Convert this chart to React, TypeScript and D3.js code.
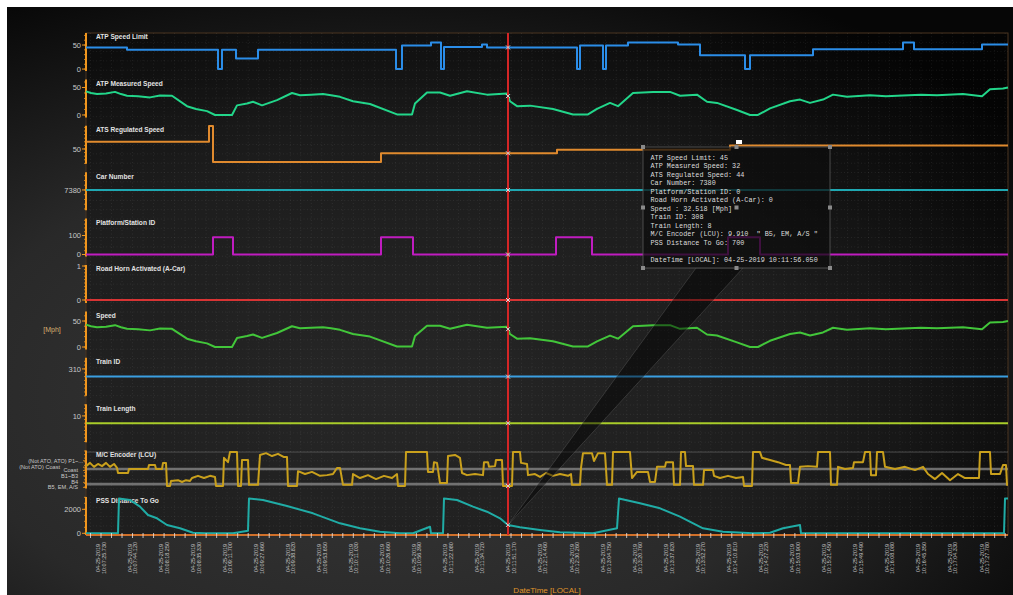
import React from "react";
import * as d3 from "d3";

type Pt = [number, number];

const DATE_LABEL = "04-25-2019";
const TIME_LABELS = [
  "10:07:25.730", "10:07:44.120", "10:08:18.250", "10:08:35.330", "10:09:11.700",
  "10:09:27.660", "10:09:38.820", "10:09:53.650", "10:10:11.030", "10:10:26.660",
  "10:10:56.390", "10:11:22.080", "10:11:34.720", "10:11:51.170", "10:12:14.460",
  "10:12:30.260", "10:13:04.750", "10:13:20.760", "10:13:37.820", "10:13:52.270",
  "10:14:10.810", "10:14:27.220", "10:15:03.900", "10:15:21.450", "10:15:49.490",
  "10:16:08.080", "10:16:45.350", "10:17:04.330", "10:17:27.780",
];

const PANEL_TITLES = [
  "ATP Speed Limit", "ATP Measured Speed", "ATS Regulated Speed", "Car Number",
  "Platform/Station ID", "Road Horn Activated (A-Car)", "Speed", "Train ID",
  "Train Length", "M/C Encoder (LCU)", "PSS Distance To Go",
];
const PANEL_TICKS: number[][] = [[0, 50], [0, 50], [50], [7380], [0, 100], [0, 1], [0, 50], [310], [10], [], [0, 2000]];
const PANEL_DOMAINS: [number, number][] = [
  [-4, 75], [-4.4, 64.7], [29.4, 82.2], [7358.7, 7398.7], [-11, 189], [-0.088, 1.03],
  [-4.6, 68.5], [303, 312.9], [2.8, 13.2], [10.44, -0.11], [-142, 3025],
];
const SERIES_COLORS = ["#2b8de8", "#22d68a", "#e08a2e", "#1fa8b2", "#c01cc0", "#d83434", "#42c63a", "#3a9ee0", "#a9cc2a", "#c9a01c", "#20aca6"];
const SERIES_STEP = [true, false, true, true, true, true, false, true, true, false, false];

// x = sample index
const X_DOMAIN: Pt = [0, 922];
const TICK_FIRST = 15;
const TICK_STEP = 31.54;

const ATP_SPEED_LIMIT: Pt[] = [
  [0, 45], [41, 40], [132, 0], [136, 40], [150, 22], [172, 40], [310, 0], [316, 49], [345, 55], [355, 0],
  [358, 46], [396, 51], [401, 45], [491, 0], [494, 49], [517, 0], [520, 49], [542, 55], [592, 51], [614, 29],
  [659, 0], [664, 29], [727, 41], [817, 55], [828, 41], [896, 51], [922, 51],
];
const ATP_MEASURED_SPEED: Pt[] = [
  [0, 43], [5, 40], [11, 38], [20, 39], [29, 42], [35, 38], [41, 35], [52, 34], [64, 32], [74, 35.5], [86, 35],
  [101, 16], [110, 11], [121, 7], [129, 0], [146, 0], [151, 17.5], [161, 21], [167, 24], [176, 17.5], [191, 27],
  [206, 40], [214, 36], [225, 37], [237, 38], [245, 36], [254, 33], [267, 25], [284, 20], [311, 1], [326, 1],
  [329, 21], [341, 41], [354, 41], [364, 35], [381, 43], [401, 37], [421, 39], [424, 25], [431, 16], [444, 17],
  [467, 11], [487, 1], [502, 1], [511, 11], [524, 22], [532, 16], [547, 40], [567, 42], [584, 42], [594, 35],
  [611, 37], [621, 24], [631, 22], [651, 9], [664, 0], [672, 0], [684, 12], [704, 25], [714, 28], [724, 22],
  [737, 28], [747, 37], [761, 33], [784, 36], [800, 34], [817, 35.5], [835, 37], [851, 36], [877, 38],
  [896, 34], [904, 47], [917, 48], [922, 50],
];
const ATS_REGULATED_SPEED: Pt[] = [[0, 60], [123, 82], [127, 32], [295, 44], [471, 49], [644, 55], [922, 55]];
const CAR_NUMBER: Pt[] = [[0, 7380], [922, 7380]];
const PLATFORM_STATION_ID: Pt[] = [[0, 0], [127, 91], [147, 0], [295, 91], [327, 0], [470, 91], [506, 0], [642, 91], [674, 0], [922, 0]];
const ROAD_HORN: Pt[] = [[0, 0], [922, 0]];
const SPEED_MPH: Pt[] = ATP_MEASURED_SPEED;
const TRAIN_ID: Pt[] = [[0, 308], [922, 308]];
const TRAIN_LENGTH: Pt[] = [[0, 8], [922, 8]];
const MC_ENCODER: Pt[] = [
  [0, 4.2], [4, 3.3], [8, 4.4], [12, 3.6], [16, 4.2], [20, 3.3], [24, 4.4], [28, 3.6], [31, 4.7], [32, 6.1], [42, 6.1],
  [43, 5.0], [62, 5.0], [63, 3.9], [69, 3.9], [70, 5.0], [76, 5.0], [77, 3.3], [80, 3.3], [81, 9.7], [84, 9.7],
  [85, 8.3], [92, 8.1], [96, 8.6], [100, 8.1], [104, 8.3], [106, 7.5], [112, 6.9], [118, 7.5], [124, 6.9], [129, 7.2],
  [130, 9.7], [137, 9.7], [138, 1.9], [142, 3.1], [144, 0.3], [151, 0.3], [152, 9.7], [155, 9.7], [156, 2.5], [162, 2.5],
  [163, 9.4], [172, 9.4], [174, 1.1], [180, 0.6], [186, 1.4], [192, 0.8], [198, 1.7], [201, 1.7], [202, 9.7], [211, 9.7],
  [212, 5.6], [219, 6.4], [226, 5.8], [234, 6.9], [241, 6.7], [247, 6.4], [251, 4.7], [254, 4.7], [257, 9.4], [266, 9.4],
  [267, 6.4], [274, 7.5], [282, 6.7], [290, 7.8], [298, 6.9], [306, 7.5], [311, 6.4], [312, 9.7], [319, 9.7], [320, 0.3],
  [341, 0.3], [342, 5.8], [347, 5.8], [348, 3.1], [351, 3.3], [354, 8.9], [361, 8.9], [362, 1.4], [369, 1.1], [374, 1.9],
  [376, 6.1], [381, 6.7], [389, 6.4], [397, 6.7], [398, 3.1], [402, 3.1], [403, 4.4], [409, 4.2], [410, 2.5], [416, 2.5],
  [417, 9.7], [426, 9.7], [427, 0.3], [434, 0.3], [435, 3.3], [441, 3.6], [442, 6.7], [449, 6.4], [454, 7.2], [460, 6.1],
  [467, 6.9], [474, 6.4], [482, 6.9], [485, 6.4], [486, 9.4], [494, 9.4], [495, 4.7], [497, 0.6], [506, 0.6], [508, 2.8],
  [512, 0.6], [519, 0.6], [521, 9.4], [526, 9.4], [527, 0.3], [544, 0.3], [546, 7.5], [551, 5.8], [562, 5.8], [564, 8.6],
  [569, 8.6], [571, 4.4], [579, 4.4], [580, 3.1], [587, 3.1], [588, 9.4], [594, 9.4], [595, 0.3], [599, 0.3], [600, 4.2],
  [607, 4.2], [608, 9.4], [617, 9.4], [618, 5.3], [627, 5.3], [628, 6.9], [634, 7.5], [642, 6.9], [650, 7.5], [657, 7.2],
  [658, 9.7], [666, 9.7], [667, 0.3], [674, 0.3], [676, 1.9], [684, 2.5], [692, 3.1], [700, 3.9], [704, 3.9], [705, 8.9],
  [712, 8.9], [714, 4.4], [722, 4.2], [731, 4.4], [732, 0.3], [744, 0.3], [745, 9.4], [751, 9.4], [752, 4.4], [759, 5.0],
  [767, 4.7], [768, 3.1], [777, 3.1], [779, 0.3], [784, 0.3], [785, 6.7], [790, 6.7], [791, 0.3], [797, 0.3], [799, 4.4],
  [809, 5.0], [819, 4.4], [829, 5.3], [837, 4.4], [842, 6.4], [849, 7.8], [856, 6.1], [864, 8.1], [872, 6.4], [879, 7.5],
  [893, 7.5], [894, 0.3], [904, 0.3], [905, 6.4], [914, 6.4], [917, 3.9], [920, 3.9], [921, 9.4], [922, 9.4],
];
const PSS_DISTANCE: Pt[] = [
  [0, 0], [32, 0], [33, 2900], [44, 2775], [54, 2220], [62, 1525], [71, 1250], [81, 690], [94, 415], [107, 50],
  [119, 0], [147, 0], [162, 215], [163, 2900], [177, 2775], [201, 2275], [227, 1665], [254, 830], [274, 415],
  [294, 130], [314, 0], [327, 0], [344, 550], [345, 0], [357, 0], [358, 2900], [371, 2775], [387, 2220], [401, 1800],
  [414, 1250], [422, 700], [434, 500], [454, 275], [474, 80], [507, 0], [531, 415], [533, 2900], [554, 2500],
  [574, 2080], [594, 1385], [617, 415], [637, 130], [667, 0], [684, 50], [697, 415], [714, 690], [715, 0], [918, 0],
  [919, 2900], [922, 2900],
];

const SERIES: Pt[][] = [
  ATP_SPEED_LIMIT, ATP_MEASURED_SPEED, ATS_REGULATED_SPEED, CAR_NUMBER, PLATFORM_STATION_ID, ROAD_HORN,
  SPEED_MPH, TRAIN_ID, TRAIN_LENGTH, MC_ENCODER, PSS_DISTANCE,
];

const ENCODER_TICK_VALUES = [2.7, 4.5, 5.4, 6.9, 8.7, 10.1];
const ENCODER_TICK_TEXT = ['(Not ATO, ATO) P1~...', "(Not ATO) Coast", "Coast", "B1~B3", "B4", "B5, EM, A/S"];
const ENCODER_TICK_END = [83, 60, 78, 78, 78, 78];
const ENCODER_BANDS = [5.0, 9.2];

const CURSOR_SAMPLE = 422;
const TOOLTIP_LINES = [
  "ATP Speed Limit: 45",
  "ATP Measured Speed: 32",
  "ATS Regulated Speed: 44",
  "Car Number: 7380",
  "Platform/Station ID: 0",
  "Road Horn Activated (A-Car): 0",
  "Speed : 32.518 [Mph]",
  "Train ID: 308",
  "Train Length: 8",
  'M/C Encoder (LCU): 9.910  " B5, EM, A/S "',
  "PSS Distance To Go: 700",
  "",
  "DateTime [LOCAL]: 04-25-2019 10:11:56.050",
];

const PLOT_L = 86, PLOT_R = 1008, PLOT_T = 33, PLOT_B = 535;
const PANEL_PITCH = 46.4, PANEL_H = 38;
const SANS = "'Liberation Sans', Arial, sans-serif";

function valueAt(series: Pt[], s: number, step: boolean): number {
  for (let i = 0; i < series.length - 1; i++) {
    const a = series[i], b = series[i + 1];
    if (s >= a[0] && s <= b[0]) {
      if (step) return s === b[0] ? b[1] : a[1];
      const t = (s - a[0]) / (b[0] - a[0] || 1);
      return a[1] + t * (b[1] - a[1]);
    }
  }
  return series[series.length - 1][1];
}

export default function App() {
  const x = d3.scaleLinear().domain(X_DOMAIN).range([PLOT_L, PLOT_R]);
  const panels = PANEL_TITLES.map((title, i) => {
    const top = PLOT_T + i * PANEL_PITCH;
    const bottom = top + PANEL_H;
    const y = d3.scaleLinear().domain(PANEL_DOMAINS[i]).range([bottom, top]);
    const line = d3
      .line<Pt>()
      .x((d) => x(d[0]))
      .y((d) => y(d[1]))
      .curve(SERIES_STEP[i] ? d3.curveStepAfter : d3.curveLinear);
    return { title, top, bottom, y, path: line(SERIES[i]) || "", i };
  });

  const tickSamples = TIME_LABELS.map((_, i) => TICK_FIRST + i * TICK_STEP);
  const minorSamples: number[] = [];
  for (let s = TICK_FIRST - TICK_STEP; s <= X_DOMAIN[1]; s += TICK_STEP / 3) {
    if (s >= X_DOMAIN[0]) minorSamples.push(s);
  }
  const hGrid: number[] = [];
  for (let yy = PLOT_T + 9.3; yy < PLOT_B; yy += 9.3) hGrid.push(yy);

  const cx = x(CURSOR_SAMPLE);
  const box = { l: 643, t: 147, r: 830, b: 268 };
  const handles: Pt[] = [
    [box.l, box.t], [(box.l + box.r) / 2, box.t], [box.r, box.t],
    [box.l, (box.t + box.b) / 2], [(box.l + box.r) / 2, (box.t + box.b) / 2], [box.r, (box.t + box.b) / 2],
    [box.l, box.b], [(box.l + box.r) / 2, box.b], [box.r, box.b],
  ];

  return (
    <svg width={1013} height={595} style={{ position: "fixed", left: 0, top: 0 }} fontFamily={SANS}>
      <defs>
        <radialGradient id="bg" cx="38%" cy="66%" r="78%">
          <stop offset="0" stopColor="#383838" />
          <stop offset="0.55" stopColor="#292929" />
          <stop offset="1" stopColor="#060606" />
        </radialGradient>
      </defs>
      <rect x={0} y={0} width={1013} height={595} fill="#ffffff" />
      <rect x={7} y={7} width={1006} height={588} fill="url(#bg)" />
      <rect x={PLOT_L} y={PLOT_T} width={PLOT_R - PLOT_L} height={PLOT_B - PLOT_T} fill="rgba(0,0,0,0.3)" stroke="#4a3420" strokeWidth={1} />

      {/* dotted grid */}
      <g stroke="rgba(255,255,255,0.12)" strokeWidth={0.8} strokeDasharray="0.8 2.6">
        {minorSamples.map((s, k) => (
          <line key={"vg" + k} x1={x(s)} x2={x(s)} y1={PLOT_T} y2={PLOT_B} />
        ))}
        {hGrid.map((yy, k) => (
          <line key={"hg" + k} x1={PLOT_L} x2={PLOT_R} y1={yy} y2={yy} />
        ))}
      </g>

      {/* encoder bands */}
      {(() => {
        const p = panels[9];
        return (
          <g>
            <line x1={PLOT_L} x2={PLOT_R} y1={p.y(0.3)} y2={p.y(0.3)} stroke="#5a5a5a" strokeWidth={0.8} />
            {ENCODER_BANDS.map((v, k) => (
              <line key={k} x1={PLOT_L} x2={PLOT_R} y1={p.y(v)} y2={p.y(v)} stroke="#8c8c8c" strokeOpacity={0.75} strokeWidth={2.6} />
            ))}
          </g>
        );
      })()}

      {/* panels */}
      {panels.map((p) => (
        <g key={p.title}>
          <line x1={PLOT_L} x2={PLOT_L} y1={p.top} y2={p.bottom} stroke="#f0961e" strokeWidth={2} />
          {p.y.ticks(8).map((t, k) => (
            <line key={"mt" + k} x1={PLOT_L - 2} x2={PLOT_L} y1={p.y(t)} y2={p.y(t)} stroke="#f0961e" strokeWidth={0.8} />
          ))}
          {PANEL_TICKS[p.i].map((t) => (
            <g key={t}>
              <line x1={PLOT_L - 4} x2={PLOT_L} y1={p.y(t)} y2={p.y(t)} stroke="#f0961e" strokeWidth={1} />
              <text x={PLOT_L - 5} y={p.y(t)} dy="0.35em" textAnchor="end" fontSize={7.5} fill="#c8c8c8">
                {t}
              </text>
            </g>
          ))}
          <text x={96} y={p.top + 6.3} fontSize={6.6} fontWeight={700} fill="#e2e2e2">
            {p.title}
          </text>
          <path d={p.path} fill="none" stroke={SERIES_COLORS[p.i]} strokeWidth={2} strokeLinejoin="round" />
        </g>
      ))}

      {/* encoder category labels */}
      {ENCODER_TICK_VALUES.map((v, k) => (
        <g key={"enc" + k}>
          <line x1={PLOT_L - 3} x2={PLOT_L} y1={panels[9].y(v)} y2={panels[9].y(v)} stroke="#f0961e" strokeWidth={0.8} />
          <text x={ENCODER_TICK_END[k]} y={panels[9].y(v)} dy="0.35em" textAnchor="end" fontSize={5.6} fill="#c8c8c8">
            {ENCODER_TICK_TEXT[k]}
          </text>
        </g>
      ))}

      <text x={52} y={330} dy="0.35em" textAnchor="middle" fontSize={7} fill="#d8b070">
        [Mph]
      </text>

      {/* x axis */}
      <line x1={PLOT_L} x2={PLOT_R} y1={PLOT_B} y2={PLOT_B} stroke="#d0702a" strokeWidth={2} />
      {minorSamples.map((s, k) => (
        <line key={"xt" + k} x1={x(s)} x2={x(s)} y1={PLOT_B - 2} y2={PLOT_B + 3} stroke="#e8e8e8" strokeWidth={0.8} />
      ))}
      {tickSamples.map((s, k) => (
        <g key={"xl" + k} transform={`translate(${x(s)},558) rotate(-90)`} fontSize={5.5} fill="#c4c4c4" textAnchor="middle">
          <text x={0} y={-0.6}>{DATE_LABEL}</text>
          <text x={0} y={4.9}>{TIME_LABELS[k]}</text>
        </g>
      ))}
      <text x={547} y={593} textAnchor="middle" fontSize={8} fill="#e0962a">
        DateTime [LOCAL]
      </text>

      {/* cursor */}
      <line x1={cx} x2={cx} y1={PLOT_T} y2={PLOT_B} stroke="#d42626" strokeWidth={2} />
      {panels.map((p) => {
        const cy = p.y(valueAt(SERIES[p.i], CURSOR_SAMPLE, SERIES_STEP[p.i]));
        return (
          <path key={"cm" + p.i} d={`M${cx - 2},${cy - 2}L${cx + 2},${cy + 2}M${cx - 2},${cy + 2}L${cx + 2},${cy - 2}`} stroke="#dddddd" strokeWidth={1} />
        );
      })}

      {/* tooltip */}
      <polygon points={`696,${box.b} 743,${box.b} ${cx},525`} fill="rgba(0,0,0,0.45)" stroke="rgba(130,130,130,0.35)" strokeWidth={0.8} />
      <rect x={box.l} y={box.t} width={box.r - box.l} height={box.b - box.t} fill="rgba(12,12,12,0.72)" stroke="#5a5a5a" strokeWidth={0.8} />
      {handles.map((h, k) => (
        <rect key={"h" + k} x={h[0] - 2} y={h[1] - 2} width={4} height={4} fill="#8a8a8a" />
      ))}
      <rect x={736} y={140} width={6} height={4} fill="#ffffff" />
      <g fontFamily="'Liberation Mono', 'DejaVu Sans Mono', monospace" fontSize={6.8} fill="#dcdcdc">
        {TOOLTIP_LINES.map((t, k) => (
          <text key={"tt" + k} x={650.5} y={159.8 + k * 8.5} xmlSpace="preserve" style={{ whiteSpace: "pre" }}>
            {t}
          </text>
        ))}
      </g>
    </svg>
  );
}
